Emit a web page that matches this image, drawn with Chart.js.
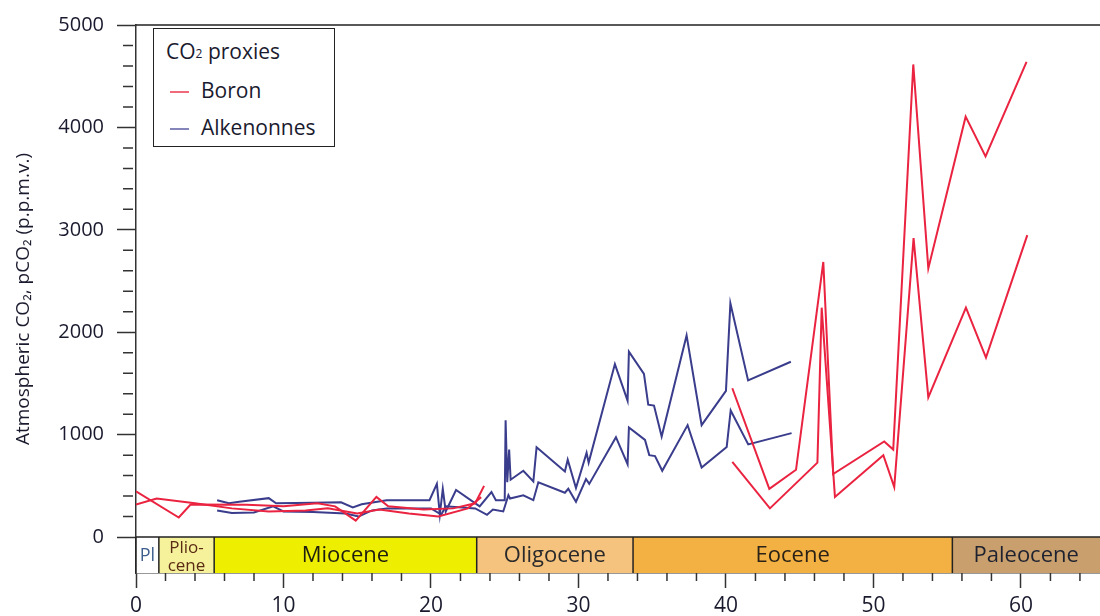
<!DOCTYPE html>
<html>
<head>
<meta charset="utf-8">
<script src="https://cdn.jsdelivr.net/npm/chart.js@4.4.1/dist/chart.umd.min.js"></script>
<style>
  html, body { margin: 0; padding: 0; background: #fff; }
  #wrap { position: relative; width: 1100px; height: 616px; }
  #legend {
    position: absolute; left: 153px; top: 28px; width: 182px; height: 119px;
    box-sizing: border-box; border: 1.5px solid #222; background: #fff;
    font-family: 'Open Sans', sans-serif; font-size: 21px; color: #1a1a2e;
  }
  #legend .title { position: absolute; left: 12px; top: 8px; }
  #legend .title sub { font-size: 12px; vertical-align: 1px; }
  #legend .row { position: absolute; left: 16px; height: 28px; line-height: 28px; }
  #legend .sw { display: inline-block; width: 19px; height: 2px; vertical-align: middle; margin-right: 12px; }
</style>
</head>
<body>
<div id="wrap">
  <canvas id="c" width="1100" height="616"></canvas>
  <div id="legend">
    <div class="title">CO<sub>2</sub> proxies</div>
    <div class="row" style="top:47px"><span class="sw" style="background:#f06a7c"></span>Boron</div>
    <div class="row" style="top:84px"><span class="sw" style="background:#8486bb"></span>Alkenonnes</div>
  </div>
</div>
<script>
// ages in Ma, CO2 in p.p.m.v. (null = no data, breaks the line)
const boronHighAge = [0, 2.9, 3.7, 7.5, 10, 12.3, 13.5, 14.9, 16.3, 17.1, 19.5, 21.5, 23.0, 23.6, 30,
  40.43, 42.94, 44.75, 46.6, 47.27, 50.73, 51.34, 52.7, 53.72, 56.25, 57.6, 60.38];
const boronHigh = [446, 191, 318, 315, 300, 330, 300, 160, 392, 300, 270, 280, 330, 500, null,
  1453, 471, 657, 2686, 615, 934, 854, 4615, 2623, 4105, 3716, 4640];

const boronLowAge = [0, 1.4, 4, 6.5, 9, 11.5, 13, 15.0, 16.5, 18.5, 20.5, 22.5, 23.4, 30,
  40.43, 42.98, 46.2, 46.49, 47.39, 50.67, 51.41, 52.72, 53.72, 56.27, 57.63, 60.43];
const boronLow = [318, 376, 330, 280, 250, 260, 280, 230, 270, 230, 200, 280, 390, null,
  733, 280, 727, 2240, 392, 800, 488, 2919, 1364, 2240, 1753, 2948];

const alkHighAge = [5.5, 6.3, 7.0, 9.0, 9.5, 12, 13.9, 14.7, 15.3, 17.0, 19.9, 20.4, 20.6, 20.8, 21.0,
  21.7, 23.3, 24.1, 24.4, 25.0, 25.06, 25.17, 25.3, 25.4, 26.26, 26.94, 27.16, 29.08, 29.27, 29.83,
  30.55, 30.69, 32.47, 33.33, 33.42, 34.44, 34.73, 35.12, 35.64, 37.33, 38.35, 40.0, 40.3, 41.5, 44.4];
const alkHigh = [360, 330, 345, 380, 330, 335, 340, 290, 320, 360, 360, 520, 220, 470, 250,
  460, 300, 440, 360, 360, 1141, 535, 854, 560, 647, 542, 877, 641, 755, 478,
  822, 727, 1689, 1332, 1810, 1593, 1293, 1284, 982, 1969, 1093, 1428, 2282, 1530, 1712];

const alkLowAge = [5.5, 6.5, 8, 9.3, 10, 12, 14.2, 15.1, 16, 17, 20, 20.7, 21, 23.0, 23.8, 24.2, 24.9,
  25.25, 25.36, 26.26, 26.94, 27.28, 29.08, 29.31, 29.83, 30.51, 30.73, 32.54, 33.33, 33.42,
  34.51, 34.8, 35.19, 35.68, 37.4, 38.35, 40.05, 40.32, 41.51, 44.45];
const alkLow = [260, 235, 240, 300, 250, 245, 230, 200, 260, 280, 280, 220, 300, 280, 217, 268, 250,
  408, 376, 408, 360, 535, 433, 471, 344, 567, 519, 975, 711, 1071,
  949, 800, 791, 647, 1093, 679, 880, 1236, 905, 1015];

// geological epochs (Ma)
const epochNames = ['Pl', 'Plio-|cene', 'Miocene', 'Oligocene', 'Eocene', 'Paleocene'];
const epochStart = [0, 1.55, 5.3, 23.1, 33.7, 55.35];
const epochEnd = [1.55, 5.3, 23.1, 33.7, 55.35, 65.5];
const epochFill = ['#ffffff', '#f6f29c', '#eeee00', '#f5c37d', '#f3b043', '#c9a06d'];
const epochText = ['#3d5e8e', '#5a2c14', '#1e1e10', '#2a2a2a', '#2a2216', '#1e2230'];

const xMajor = [0, 10, 20, 30, 40, 50, 60];
const yMajor = [0, 1000, 2000, 3000, 4000, 5000];
const xMax = 65.36, yMin = -351, yMax = 5000;

const RED = '#ea2340', NAVY = '#3a3c8c', AXIS = '#333', LABEL = '#1a1a2e';

const xTicks = [];
for (let v = 0; v <= 64; v += 2) xTicks.push({ value: v });
const yTicks = [];
for (let v = 0; v <= 5000; v += 200) yTicks.push({ value: v });

const pts = (ages, vals) => ages.map((a, i) => ({ x: a, y: vals[i] }));
const line = (label, data, color) => ({
  label, data, borderColor: color, backgroundColor: color,
  borderWidth: 2, pointRadius: 0, tension: 0, spanGaps: false
});

const epochBar = {
  id: 'epochBar',
  beforeDatasetsDraw(chart) {
    const { ctx, chartArea, scales: { x, y } } = chart;
    const top = y.getPixelForValue(0), bottom = chartArea.bottom;
    ctx.save();
    epochNames.forEach((name, i) => {
      const l = x.getPixelForValue(epochStart[i]);
      const r = Math.min(x.getPixelForValue(epochEnd[i]), chartArea.right);
      ctx.fillStyle = epochFill[i];
      ctx.fillRect(l, top, r - l, bottom - top);
      ctx.save();
      ctx.beginPath();
      ctx.rect(l, top, r - l, bottom - top);
      ctx.clip();
      ctx.fillStyle = epochText[i];
      ctx.textAlign = 'center';
      ctx.textBaseline = 'middle';
      const cx = (l + r) / 2;
      const parts = name.split('|');
      if (parts.length > 1) {
        ctx.font = "17px 'Open Sans'";
        ctx.fillText(parts[0], cx, top + 11);
        ctx.fillText(parts[1], cx, top + 29);
      } else {
        ctx.font = i === 0 ? "18px 'Open Sans'" : "22px 'Open Sans'";
        ctx.fillText(name, cx, (top + bottom) / 2 + 1);
      }
      ctx.restore();
    });
    ctx.strokeStyle = '#222';
    ctx.lineWidth = 1.5;
    ctx.beginPath();
    ctx.moveTo(chartArea.left, top);
    ctx.lineTo(chartArea.right, top);
    epochStart.forEach(s => {
      const px = x.getPixelForValue(s);
      ctx.moveTo(px, top);
      ctx.lineTo(px, bottom);
    });
    // frame top
    ctx.moveTo(chartArea.left, chartArea.top);
    ctx.lineTo(chartArea.right, chartArea.top);
    ctx.stroke();
    ctx.restore();
  },
  afterDraw(chart) {
    // minor ticks, shorter than the major ones
    const { ctx, chartArea, scales: { x, y } } = chart;
    ctx.save();
    ctx.strokeStyle = AXIS;
    ctx.lineWidth = 1.5;
    ctx.beginPath();
    x.ticks.forEach(t => {
      if (t.value % 10 !== 0) {
        const px = x.getPixelForValue(t.value);
        ctx.moveTo(px, chartArea.bottom);
        ctx.lineTo(px, chartArea.bottom + 8);
      }
    });
    y.ticks.forEach(t => {
      if (t.value % 1000 !== 0) {
        const py = y.getPixelForValue(t.value);
        ctx.moveTo(chartArea.left - 13, py);
        ctx.lineTo(chartArea.left - 3, py);
      }
    });
    ctx.stroke();
    ctx.restore();
  }
};

Chart.defaults.font.family = "'Open Sans', sans-serif";

new Chart(document.getElementById('c'), {
  type: 'line',
  data: {
    datasets: [
      line('Boron', pts(boronHighAge, boronHigh), RED),
      line('Boron', pts(boronLowAge, boronLow), RED),
      line('Alkenonnes', pts(alkHighAge, alkHigh), NAVY),
      line('Alkenonnes', pts(alkLowAge, alkLow), NAVY)
    ]
  },
  options: {
    responsive: false,
    animation: false,
    layout: { padding: { top: 13, right: 0, bottom: 0, left: 0 } },
    plugins: { legend: { display: false }, tooltip: { enabled: false } },
    scales: {
      x: {
        type: 'linear', min: 0, max: xMax,
        afterBuildTicks: s => { s.ticks = xTicks.map(t => ({ value: t.value })); },
        afterFit: s => { s.height = 43; },
        ticks: {
          autoSkip: false, maxRotation: 0, padding: 5, color: LABEL,
          font: { size: 21 },
          callback: v => xMajor.includes(v) ? String(v) : ''
        },
        grid: {
          drawOnChartArea: false, tickLength: 15, tickWidth: 1.5,
          tickColor: c => xMajor.includes(c.tick.value) ? AXIS : 'rgba(0,0,0,0)'
        },
        border: { color: AXIS, width: 1.5 }
      },
      y: {
        type: 'linear', min: yMin, max: yMax,
        afterBuildTicks: s => { s.ticks = yTicks.map(t => ({ value: t.value })); },
        afterFit: s => { s.width = 136; },
        ticks: {
          autoSkip: false, padding: 13, color: LABEL,
          font: { size: 20 },
          callback: v => yMajor.includes(v) ? String(v) : ''
        },
        grid: {
          drawOnChartArea: false, tickLength: 19, tickWidth: 1.5,
          tickColor: c => yMajor.includes(c.tick.value) ? AXIS : 'rgba(0,0,0,0)'
        },
        border: { color: AXIS, width: 1.5 },
        title: {
          display: true,
          text: 'Atmospheric CO\u2082, pCO\u2082 (p.p.m.v.)',
          color: LABEL,
          font: { size: 19 },
          padding: { top: 12, bottom: 0 }
        }
      }
    }
  },
  plugins: [epochBar]
});
</script>
</body>
</html>
